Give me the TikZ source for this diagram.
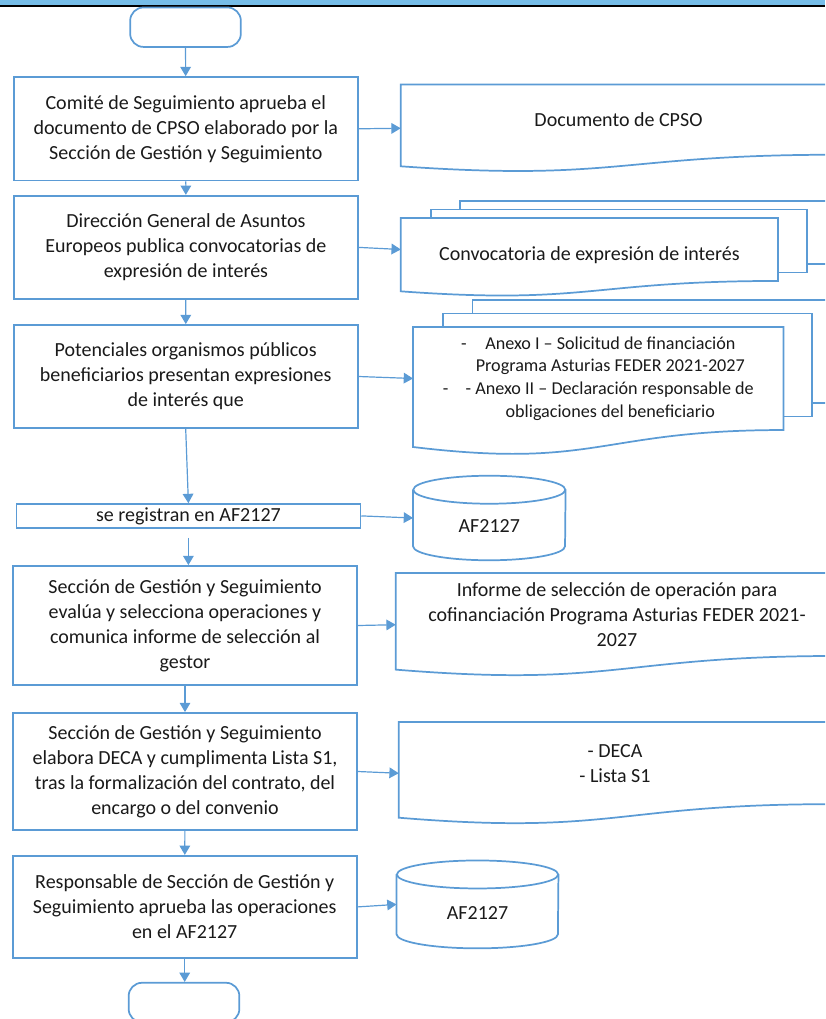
\documentclass[tikz,border=0pt]{standalone}
\usepackage{fontspec}
\setmainfont{Carlito}
\usepackage{xcolor}
\usetikzlibrary{arrows.meta,calc}
\definecolor{flow-blue}{HTML}{5B9BD5}
\definecolor{bar-blue}{HTML}{76BDE8}
\definecolor{text-dark}{HTML}{1A1A1A}

\tikzset{
  shapeline/.style={draw=flow-blue, line width=1.3pt},
  termbox/.style={shapeline, rounded corners=10pt, minimum width=83pt, minimum height=29.6pt},
  procbox/.style={shapeline, minimum width=258pt, align=center, inner sep=0pt},
  docbox/.style={align=center, inner sep=0pt},
  dbbox/.style={inner sep=0pt},
  flowarrow/.style={draw=flow-blue, line width=0.9pt, -{Triangle[length=7pt,width=8pt]}}
}

% document outline: node is the text part, the wave hangs below it
\newcommand{\docwave}[1]{%
  \draw[shapeline] (#1.south east) -- (#1.north east) -- (#1.north west)
    -- ($(#1.north west)!1.1646!(#1.south west)$)
    .. controls ($(#1.north)!1.3815!(#1.south)$) and (#1.south) .. (#1.south east) -- cycle;
  \coordinate (#1-in) at ($(#1.north west)!0.6234!(#1.south west)$);}

% data store outline round a node
\newcommand{\dbdraw}[2]{%
  \draw[shapeline] ($(#1.north west)+(0,14)$) -- ($(#1.south west)+(0,-14)$)
    arc[start angle=180, end angle=360, x radius=#2, y radius=10.5pt]
    -- ($(#1.north east)+(0,14)$);
  \draw[shapeline] ($(#1.north)+(0,14)$) ellipse[x radius=#2, y radius=10.5pt];}

% text moved down without changing the node size
\newcommand{\lowered}[2]{\raisebox{-#1}[\height][\depth]{#2}}

\begin{document}
\begin{tikzpicture}[x=0.75pt, y=-0.75pt,
  every node/.style={font=\fontsize{15}{18.75}\selectfont, text=text-dark}]
  \path[use as bounding box] (0,0) rectangle (825,1019);
  \clip (0,0) rectangle (825,1019);

  % top band
  \fill[bar-blue] (0,0) rectangle (825,5.5);
  \fill[black] (0,5.5) rectangle (825,7.5);

  % main column
  \node[termbox] (start) at (185.5,27.2) {};
  \node[procbox, minimum height=77.6pt] (b1) at (185.8,128.8)
    {Comité de Seguimiento aprueba el\\documento de CPSO elaborado por la\\Sección de Gestión y Seguimiento};
  \node[procbox, minimum height=77.5pt] (b2) at (185.9,247.4)
    {Dirección General de Asuntos\\Europeos publica convocatorias de\\expresión de interés};
  \node[procbox, minimum height=77.3pt] (b3) at (185.7,376.5)
    {Potenciales organismos públicos\\beneficiarios presentan expresiones\\de interés que};
  \node[procbox, minimum height=17.8pt] (b4) at (188.4,515.9) {se registran en AF2127};
  \node[procbox, minimum height=89.3pt] (b5) at (185,625.5)
    {Sección de Gestión y Seguimiento\\evalúa y selecciona operaciones y\\comunica informe de selección al\\gestor};
  \node[procbox, minimum height=87.8pt] (b6) at (185,771.5)
    {Sección de Gestión y Seguimiento\\elabora DECA y cumplimenta Lista S1,\\tras la formalización del contrato, del\\encargo o del convenio};
  \node[procbox, minimum height=76.7pt] (b7) at (184.7,906.9)
    {Responsable de Sección de Gestión y\\Seguimiento aprueba las operaciones\\en el AF2127};
  \node[termbox] (stop) at (184,1002.5) {};

  % outputs
  \node[docbox, minimum width=326.3pt, minimum height=52.3pt] (d1) at (618.5,119.6) {Documento de CPSO};
  \docwave{d1}

  \node[docbox, minimum width=282.5pt, minimum height=46.8pt] (d2) at (589.4,249.5)
    {\lowered{4pt}{Convocatoria de expresión de interés}};
  \draw[shapeline] ($(d2.north west)+(30,0)$) |- ($(d2.north east)+(29,-8.5)$)
    -- ($(d2.south east)+(29,-8.5)$) -- ($(d2.south east)+(0,-8.5)$);
  \draw[shapeline] ($(d2.north west)+(59,-8.5)$) |- ($(d2.north east)+(59,-17)$)
    -- ($(d2.south east)+(59,-17)$) -- ($(d2.south east)+(29,-17)$);
  \docwave{d2}

  \node[docbox, minimum width=277.5pt, minimum height=76.9pt,
    font=\fontsize{13.6}{16.9}\selectfont] (d3) at (598.3,378.5)
    {-\hspace{14pt}Anexo I – Solicitud de financiación\\
     \hspace*{18pt}Programa Asturias FEDER 2021-2027\\
     -\hspace{13pt}- Anexo II – Declaración responsable de\\
     \hspace*{18pt}obligaciones del beneficiario};
  \draw[shapeline] ($(d3.north west)+(30,0)$) |- ($(d3.north east)+(28.5,-13.5)$)
    -- ($(d3.south east)+(28.5,-13.5)$) -- ($(d3.south east)+(0,-13.5)$);
  \draw[shapeline] ($(d3.north west)+(59.5,-13.5)$) |- ($(d3.north east)+(58,-27)$)
    -- ($(d3.south east)+(58,-27)$) -- ($(d3.south east)+(28.5,-27)$);
  \docwave{d3}

  \node[dbbox, minimum width=114pt, minimum height=63pt] (db1) at (489.3,518) {\lowered{5.8pt}{AF2127}};
  \dbdraw{db1}{57pt}

  \node[docbox, minimum width=331.5pt, minimum height=61.8pt] (d4) at (617,614.5)
    {Informe de selección de operación para\\cofinanciación Programa Asturias FEDER 2021-\\2027};
  \docwave{d4}

  \node[docbox, minimum width=324pt, minimum height=61.2pt] (d5) at (615,763.1) {- DECA\\- Lista S1};
  \docwave{d5}

  \node[dbbox, minimum width=121pt, minimum height=65.5pt] (db2) at (477.5,904.4) {\lowered{6.4pt}{AF2127}};
  \dbdraw{db2}{60.5pt}

  % flow
  \draw[flowarrow] (start) -- (b1);
  \draw[flowarrow] (b1) -- (b2);
  \draw[flowarrow] (b2) -- (b3);
  \draw[flowarrow] (b3.south) -- (b4.north);
  \draw[flowarrow, shorten <=7pt] (b4.south) -- (b4.south |- b5.north);
  \draw[flowarrow] (b5) -- (b6);
  \draw[flowarrow] (b6) -- (b7);
  \draw[flowarrow] (b7.south) -- (b7.south |- stop.north);

  \draw[flowarrow] (b1.east) -- (d1-in);
  \draw[flowarrow] (b2.east) -- (d2.west);
  \draw[flowarrow] (b3.east) -- (d3.west);
  \draw[flowarrow] (b4.east) -- (db1.west);
  \draw[flowarrow] (b5.east) -- (d4-in);
  \draw[flowarrow] (b6.east) -- (d5-in);
  \draw[flowarrow] (b7.east) -- (db2.west);
\end{tikzpicture}
\end{document}
